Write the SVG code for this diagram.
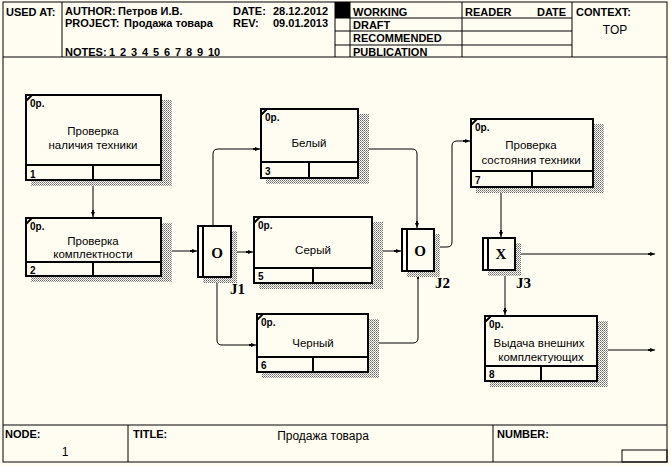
<svg xmlns="http://www.w3.org/2000/svg" width="671" height="466" viewBox="0 0 671 466">
<defs>
<pattern id="dots" width="2" height="2" patternUnits="userSpaceOnUse">
<rect width="2" height="2" fill="#fffdf2"/>
<rect width="1" height="1" fill="#666"/>
<rect x="1" y="1" width="1" height="1" fill="#999"/>
</pattern>
<marker id="arr" markerWidth="8" markerHeight="6" refX="7" refY="3" orient="auto" markerUnits="userSpaceOnUse">
<path d="M0,2 L2,2 L2,1 L7,3 L2,5 L2,4 L0,4 Z" fill="#000"/>
</marker>
</defs>
<style>
.hd{font-family:"Liberation Sans",Arial,sans-serif;font-size:11px;font-weight:bold;fill:#000}
.nt{font-family:"Liberation Sans",Arial,sans-serif;font-size:11.5px;fill:#000;text-anchor:middle}
.sm{font-family:"Liberation Sans",Arial,sans-serif;font-size:10px;font-weight:bold;fill:#000}
.jl{font-family:"Liberation Serif","Times New Roman",serif;font-size:15px;font-weight:bold;fill:#000}
.jc{font-family:"Liberation Serif","Times New Roman",serif;font-size:15px;font-weight:bold;fill:#000;text-anchor:middle}
.box{fill:#fffdf2;stroke:#000;stroke-width:2}
.ln{stroke:#000;stroke-width:2;fill:none}
.thin{stroke:#000;stroke-width:1;fill:none}
.sh{fill:url(#dots)}
.cn{stroke:#000;stroke-width:1;fill:none;marker-end:url(#arr)}
</style>
<rect x="0" y="0" width="671" height="466" fill="#fffdf2"/>

<g id="frame">
<rect x="3" y="2" width="664" height="460" class="thin"/>
<line x1="3" y1="57" x2="667" y2="57" class="thin"/>
<line x1="62" y1="2" x2="62" y2="57" class="thin"/>
<line x1="335" y1="2" x2="335" y2="57" class="thin"/>
<rect x="335" y="2" width="15" height="16" fill="#000"/>
<line x1="350" y1="2" x2="350" y2="57" class="thin"/>
<line x1="335" y1="18" x2="572" y2="18" class="thin"/>
<line x1="335" y1="31" x2="572" y2="31" class="thin"/>
<line x1="335" y1="45" x2="572" y2="45" class="thin"/>
<line x1="462" y1="2" x2="462" y2="57" class="thin"/>
<line x1="572" y1="2" x2="572" y2="57" class="thin"/>
<text x="6" y="16" class="hd">USED AT:</text>
<text x="65" y="15" class="hd">AUTHOR:</text>
<text x="118" y="15" class="hd">Петров И.В.</text>
<text x="233" y="15" class="hd">DATE:</text>
<text x="273" y="15" class="hd">28.12.2012</text>
<text x="65" y="27" class="hd">PROJECT:</text>
<text x="124" y="27" class="hd">Продажа товара</text>
<text x="233" y="27" class="hd">REV:</text>
<text x="273" y="27" class="hd">09.01.2013</text>
<text x="65" y="56" class="hd">NOTES:</text>
<text y="56" class="hd"><tspan x="109">1</tspan><tspan x="120">2</tspan><tspan x="131">3</tspan><tspan x="142">4</tspan><tspan x="153">5</tspan><tspan x="164">6</tspan><tspan x="175">7</tspan><tspan x="186">8</tspan><tspan x="197">9</tspan><tspan x="208">10</tspan></text>
<text x="353" y="16" class="hd">WORKING</text>
<text x="353" y="29" class="hd">DRAFT</text>
<text x="353" y="42" class="hd">RECOMMENDED</text>
<text x="353" y="56" class="hd">PUBLICATION</text>
<text x="465" y="16" class="hd">READER</text>
<text x="537" y="16" class="hd">DATE</text>
<text x="576" y="16" class="hd">CONTEXT:</text>
<text x="615" y="34" font-family="Liberation Sans, Arial, sans-serif" font-size="12" text-anchor="middle">TOP</text>
<line x1="3" y1="425" x2="667" y2="425" class="thin"/>
<line x1="128" y1="425" x2="128" y2="462" class="thin"/>
<line x1="493" y1="425" x2="493" y2="462" class="thin"/>
<rect x="622" y="450" width="45" height="12" class="thin"/>
<text x="5" y="438" class="hd">NODE:</text>
<text x="133" y="438" class="hd">TITLE:</text>
<text x="497" y="438" class="hd">NUMBER:</text>
<text x="323" y="440" font-family="Liberation Sans, Arial, sans-serif" font-size="12" text-anchor="middle">Продажа товара</text>
<text x="65" y="456" font-family="Liberation Sans, Arial, sans-serif" font-size="12" text-anchor="middle">1</text>
</g>

<g id="connectors">
<path class="cn" d="M93,180 V217"/>
<path class="cn" d="M161,251 H197"/>
<path class="cn" d="M213,226 V154 Q213,149 218,149 H260"/>
<path class="cn" d="M231,252 H253"/>
<path class="cn" d="M217,277 V340 Q217,345 222,345 H256"/>
<path class="cn" d="M358,149 H412 Q417,149 417,154 V228"/>
<path class="cn" d="M372,251 H401"/>
<path class="cn" d="M368,343 H413 Q418,343 418,338 V272"/>
<path class="cn" d="M434,247 H447 Q452,247 452,242 V146 Q452,141 457,141 H470"/>
<path class="cn" d="M501,187 V237"/>
<path class="cn" d="M515,254 H655"/>
<path class="cn" d="M505,270 V315"/>
<path class="cn" d="M597,350 H655"/>
</g>

<g id="node1">
<rect x="31" y="100" width="141" height="86" class="sh"/>
<rect x="26" y="95" width="135" height="85" class="box"/>
<line x1="26" y1="165" x2="161" y2="165" class="ln"/>
<line x1="93" y1="165" x2="93" y2="180" class="ln"/>
<line x1="26" y1="101" x2="32" y2="95" class="ln"/>
<text x="30" y="107" class="sm">0р.</text>
<text x="93" y="135" class="nt">Проверка</text>
<text x="93" y="149" class="nt">наличия техники</text>
<text x="30" y="178" class="sm">1</text>
</g>

<g id="node2">
<rect x="31" y="223" width="141" height="59" class="sh"/>
<rect x="26" y="218" width="135" height="58" class="box"/>
<line x1="26" y1="262" x2="161" y2="262" class="ln"/>
<line x1="93" y1="262" x2="93" y2="276" class="ln"/>
<line x1="26" y1="224" x2="32" y2="218" class="ln"/>
<text x="30" y="230" class="sm">0р.</text>
<text x="93" y="245" class="nt">Проверка</text>
<text x="93" y="258" class="nt">комплектности</text>
<text x="30" y="274" class="sm">2</text>
</g>

<g id="node3">
<rect x="266" y="114" width="103" height="70" class="sh"/>
<rect x="261" y="109" width="97" height="69" class="box"/>
<line x1="261" y1="162" x2="358" y2="162" class="ln"/>
<line x1="309" y1="162" x2="309" y2="178" class="ln"/>
<line x1="261" y1="115" x2="267" y2="109" class="ln"/>
<text x="265" y="121" class="sm">0р.</text>
<text x="309" y="147" class="nt">Белый</text>
<text x="265" y="175" class="sm">3</text>
</g>

<g id="node5">
<rect x="259" y="222" width="124" height="67" class="sh"/>
<rect x="254" y="217" width="118" height="66" class="box"/>
<line x1="254" y1="268" x2="372" y2="268" class="ln"/>
<line x1="313" y1="268" x2="313" y2="283" class="ln"/>
<line x1="254" y1="223" x2="260" y2="217" class="ln"/>
<text x="258" y="229" class="sm">0р.</text>
<text x="313" y="254" class="nt">Серый</text>
<text x="258" y="280" class="sm">5</text>
</g>

<g id="node6">
<rect x="262" y="319" width="117" height="59" class="sh"/>
<rect x="257" y="314" width="111" height="58" class="box"/>
<line x1="257" y1="357" x2="368" y2="357" class="ln"/>
<line x1="313" y1="357" x2="313" y2="372" class="ln"/>
<line x1="257" y1="320" x2="263" y2="314" class="ln"/>
<text x="261" y="326" class="sm">0р.</text>
<text x="313" y="347" class="nt">Черный</text>
<text x="261" y="369" class="sm">6</text>
</g>

<g id="node7">
<rect x="476" y="124" width="128" height="69" class="sh"/>
<rect x="471" y="119" width="122" height="68" class="box"/>
<line x1="471" y1="171" x2="593" y2="171" class="ln"/>
<line x1="532" y1="171" x2="532" y2="187" class="ln"/>
<line x1="471" y1="125" x2="477" y2="119" class="ln"/>
<text x="475" y="131" class="sm">0р.</text>
<text x="531" y="149" class="nt">Проверка</text>
<text x="531" y="164" class="nt">состояния техники</text>
<text x="475" y="184" class="sm">7</text>
</g>

<g id="node8">
<rect x="490" y="321" width="118" height="66" class="sh"/>
<rect x="485" y="316" width="112" height="65" class="box"/>
<line x1="485" y1="366" x2="597" y2="366" class="ln"/>
<line x1="541" y1="366" x2="541" y2="381" class="ln"/>
<line x1="485" y1="322" x2="491" y2="316" class="ln"/>
<text x="489" y="328" class="sm">0р.</text>
<text x="539" y="347" class="nt">Выдача внешних</text>
<text x="541" y="361" class="nt">комплектующих</text>
<text x="489" y="378" class="sm">8</text>
</g>

<g id="J1">
<rect x="203" y="231" width="34" height="52" class="sh"/>
<rect x="198" y="226" width="33" height="51" class="box"/>
<line x1="203" y1="226" x2="203" y2="277" class="ln"/>
<text x="217" y="258" class="jc">O</text>
<text x="230" y="294" class="jl">J1</text>
</g>

<g id="J2">
<rect x="407" y="234" width="33" height="43" class="sh"/>
<rect x="402" y="229" width="32" height="42" class="box"/>
<line x1="407" y1="229" x2="407" y2="271" class="ln"/>
<text x="420" y="256" class="jc">O</text>
<text x="435" y="288" class="jl">J2</text>
</g>

<g id="J3">
<rect x="488" y="243" width="33" height="33" class="sh"/>
<rect x="483" y="238" width="32" height="32" class="box"/>
<line x1="488" y1="238" x2="488" y2="270" class="ln"/>
<text x="501" y="259" class="jc">X</text>
<text x="516" y="288" class="jl">J3</text>
</g>
</svg>
